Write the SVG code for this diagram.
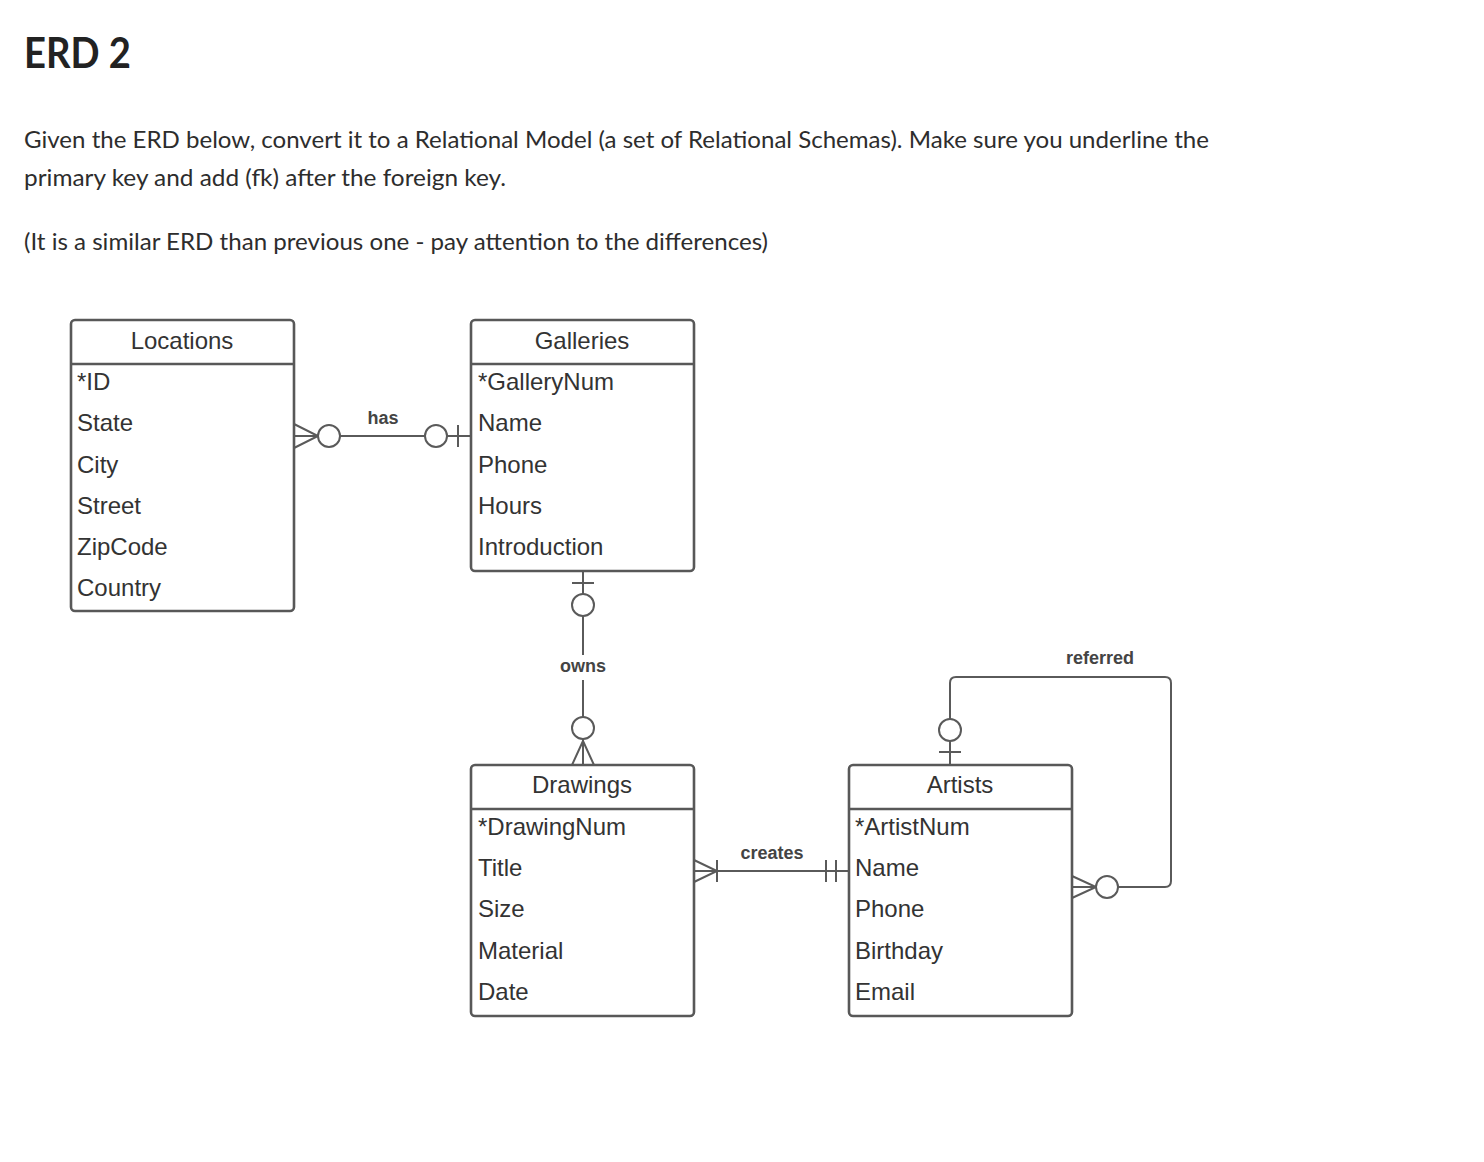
<svg xmlns="http://www.w3.org/2000/svg" width="1484" height="1162" viewBox="0 0 1484 1162">
<style>
.bg{fill:#ffffff}
.title{font-family:Lato,"Noto Sans","Liberation Sans",sans-serif;font-weight:bold;font-size:42px;fill:#222}
.body{font-family:Lato,"Noto Sans","Liberation Sans",sans-serif;font-size:23px;fill:#2d2d2d}
.box{fill:#ffffff;stroke:#585858;stroke-width:2.6}
.sep{stroke:#585858;stroke-width:2.6}
.hd{font-family:"Liberation Sans",Arial,sans-serif;font-size:24px;fill:#333;text-anchor:middle}
.at{font-family:"Liberation Sans",Arial,sans-serif;font-size:24px;fill:#333}
.lbl{font-family:"Liberation Sans",Arial,sans-serif;font-size:18px;font-weight:bold;fill:#444;text-anchor:middle}
.ln{fill:none;stroke:#5a5a5a;stroke-width:2}
.ci{fill:#ffffff;stroke:#5a5a5a;stroke-width:2}
</style>
<rect class="bg" x="0" y="0" width="1484" height="1162"/>
<g id="header">
<text class="title" x="24" y="68" textLength="107" lengthAdjust="spacingAndGlyphs">ERD 2</text>
<text class="body" x="24" y="148" textLength="1185" lengthAdjust="spacingAndGlyphs">Given the ERD below, convert it to a Relational Model (a set of Relational Schemas). Make sure you underline the</text>
<text class="body" x="24" y="186" textLength="482" lengthAdjust="spacingAndGlyphs">primary key and add (fk) after the foreign key.</text>
<text class="body" x="24" y="250" textLength="744" lengthAdjust="spacingAndGlyphs">(It is a similar ERD than previous one - pay attention to the differences)</text>
</g>
<g id="connectors">
<!-- has -->
<g id="conn-has">
<line class="ln" x1="294" y1="436" x2="471" y2="436"/>
<polyline class="ln" points="294,424 318,436 294,448"/>
<circle class="ci" cx="329" cy="436" r="11"/>
<circle class="ci" cx="436" cy="436" r="11"/>
<line class="ln" x1="458" y1="425" x2="458" y2="447"/>
<text class="lbl" x="383" y="424">has</text>
</g>
<!-- owns -->
<g id="conn-owns">
<line class="ln" x1="583" y1="571" x2="583" y2="655"/>
<line class="ln" x1="583" y1="680" x2="583" y2="765"/>
<line class="ln" x1="572" y1="583" x2="594" y2="583"/>
<circle class="ci" cx="583" cy="605" r="11"/>
<circle class="ci" cx="583" cy="728" r="11"/>
<polyline class="ln" points="572,765 583,741 594,765"/>
<text class="lbl" x="583" y="672">owns</text>
</g>
<!-- creates -->
<g id="conn-creates">
<line class="ln" x1="694" y1="871" x2="849" y2="871"/>
<polyline class="ln" points="694,860 717,871 694,882"/>
<line class="ln" x1="717" y1="860" x2="717" y2="882"/>
<line class="ln" x1="826" y1="860" x2="826" y2="882"/>
<line class="ln" x1="836" y1="860" x2="836" y2="882"/>
<text class="lbl" x="772" y="859">creates</text>
</g>
<!-- referred -->
<g id="conn-referred">
<path class="ln" d="M1072,887 H1165 Q1171,887 1171,881 V683 Q1171,677 1165,677 H956 Q950,677 950,683 V765"/>
<polyline class="ln" points="1072,876 1096,887 1072,898"/>
<circle class="ci" cx="1107" cy="887" r="11"/>
<circle class="ci" cx="950" cy="730" r="11"/>
<line class="ln" x1="939" y1="752" x2="961" y2="752"/>
<text class="lbl" x="1100" y="664">referred</text>
</g>
</g>
<g id="Locations">
<rect class="box" x="71" y="320" width="223" height="291" rx="4"/>
<line class="sep" x1="71" y1="364" x2="294" y2="364"/>
<text class="hd" x="182" y="349">Locations</text>
<text class="at" x="77" y="390">*ID</text>
<text class="at" x="77" y="431">State</text>
<text class="at" x="77" y="473">City</text>
<text class="at" x="77" y="514">Street</text>
<text class="at" x="77" y="555">ZipCode</text>
<text class="at" x="77" y="596">Country</text>
</g>
<g id="Galleries">
<rect class="box" x="471" y="320" width="223" height="251" rx="4"/>
<line class="sep" x1="471" y1="364" x2="694" y2="364"/>
<text class="hd" x="582" y="349">Galleries</text>
<text class="at" x="478" y="390">*GalleryNum</text>
<text class="at" x="478" y="431">Name</text>
<text class="at" x="478" y="473">Phone</text>
<text class="at" x="478" y="514">Hours</text>
<text class="at" x="478" y="555">Introduction</text>
</g>
<g id="Drawings">
<rect class="box" x="471" y="765" width="223" height="251" rx="4"/>
<line class="sep" x1="471" y1="809" x2="694" y2="809"/>
<text class="hd" x="582" y="793">Drawings</text>
<text class="at" x="478" y="835">*DrawingNum</text>
<text class="at" x="478" y="876">Title</text>
<text class="at" x="478" y="917">Size</text>
<text class="at" x="478" y="959">Material</text>
<text class="at" x="478" y="1000">Date</text>
</g>
<g id="Artists">
<rect class="box" x="849" y="765" width="223" height="251" rx="4"/>
<line class="sep" x1="849" y1="809" x2="1072" y2="809"/>
<text class="hd" x="960" y="793">Artists</text>
<text class="at" x="855" y="835">*ArtistNum</text>
<text class="at" x="855" y="876">Name</text>
<text class="at" x="855" y="917">Phone</text>
<text class="at" x="855" y="959">Birthday</text>
<text class="at" x="855" y="1000">Email</text>
</g>
</svg>
